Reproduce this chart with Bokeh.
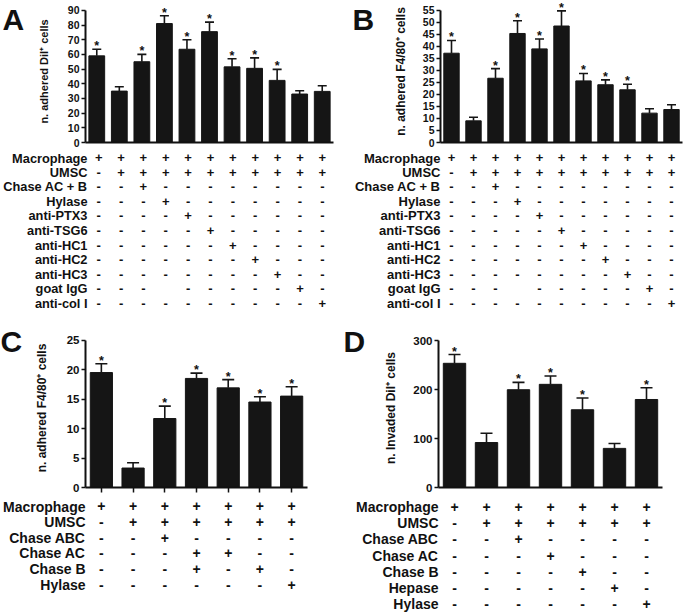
from bokeh.plotting import figure
from bokeh.models import FactorRange, Range1d, FixedTicker, Whisker, TeeHead, ColumnDataSource, Label
from bokeh.layouts import row, column
from bokeh.embed import file_html
from bokeh.resources import INLINE
from bokeh.core.properties import value

FONT = "Liberation Sans"
INK = "#111111"

# ---------------- data ----------------
# Panel A
a_groups = ["1", "2", "3", "4", "5", "6", "7", "8", "9", "10", "11"]
a_means = [59, 35, 55, 81, 63.5, 75.5, 51.5, 50.5, 42.3, 33, 34.8]
a_upper = [63.5, 38, 60, 86.3, 70, 82, 57, 57.6, 49.8, 35.2, 38.6]
a_stars = ["*", "", "*", "*", "*", "*", "*", "*", "*", "", ""]
a_yticks = [0, 10, 20, 30, 40, 50, 60, 70, 80, 90]
a_ylabel = "n. adhered DiI\u207a cells"

# Panel B
b_groups = ["1", "2", "3", "4", "5", "6", "7", "8", "9", "10", "11"]
b_means = [37.1, 9.0, 26.7, 45.3, 38.9, 48.4, 25.6, 24.0, 21.9, 12.2, 13.7]
b_upper = [42.4, 10.5, 30.7, 50.6, 43.0, 54.7, 28.7, 26.0, 24.2, 14.0, 15.7]
b_stars = ["*", "", "*", "*", "*", "*", "*", "*", "*", "", ""]
b_yticks = [0, 5, 10, 15, 20, 25, 30, 35, 40, 45, 50, 55]
b_ylabel = "n. adhered F4/80\u207a cells"

ab_rows = ["Macrophage", "UMSC", "Chase AC + B", "Hylase", "anti-PTX3", "anti-TSG6",
           "anti-HC1", "anti-HC2", "anti-HC3", "goat IgG", "anti-col I"]
ab_signs = [
    ["+", "+", "+", "+", "+", "+", "+", "+", "+", "+", "+"],
    ["-", "+", "+", "+", "+", "+", "+", "+", "+", "+", "+"],
    ["-", "-", "+", "-", "-", "-", "-", "-", "-", "-", "-"],
    ["-", "-", "-", "+", "-", "-", "-", "-", "-", "-", "-"],
    ["-", "-", "-", "-", "+", "-", "-", "-", "-", "-", "-"],
    ["-", "-", "-", "-", "-", "+", "-", "-", "-", "-", "-"],
    ["-", "-", "-", "-", "-", "-", "+", "-", "-", "-", "-"],
    ["-", "-", "-", "-", "-", "-", "-", "+", "-", "-", "-"],
    ["-", "-", "-", "-", "-", "-", "-", "-", "+", "-", "-"],
    ["-", "-", "-", "", "-", "-", "-", "-", "-", "+", "-"],
    ["-", "-", "-", "-", "-", "-", "-", "-", "-", "-", "+"],
]

# Panel C
c_groups = ["1", "2", "3", "4", "5", "6", "7"]
c_means = [19.5, 3.3, 11.7, 18.5, 16.9, 14.5, 15.5]
c_upper = [21.0, 4.2, 13.8, 19.4, 18.3, 15.4, 17.1]
c_stars = ["*", "", "*", "*", "*", "*", "*"]
c_yticks = [0, 5, 10, 15, 20, 25]
c_ylabel = "n. adhered F4/80\u207a cells"
c_rows = ["Macrophage", "UMSC", "Chase ABC", "Chase AC", "Chase B", "Hylase"]
c_signs = [
    ["+", "+", "+", "+", "+", "+", "+"],
    ["-", "+", "+", "+", "+", "+", "+"],
    ["-", "-", "+", "-", "-", "-", "-"],
    ["-", "-", "-", "+", "+", "-", "-"],
    ["-", "-", "-", "+", "-", "+", "-"],
    ["-", "-", "-", "-", "-", "-", "+"],
]

# Panel D
d_groups = ["1", "2", "3", "4", "5", "6", "7"]
d_means = [254, 92, 200, 211, 159, 80, 180]
d_upper = [272, 111, 215, 228, 183, 90, 204]
d_stars = ["*", "", "*", "*", "*", "", "*"]
d_yticks = [0, 100, 200, 300]
d_ylabel = "n. Invaded DiI\u207a cells"
d_rows = ["Macrophage", "UMSC", "Chase ABC", "Chase AC", "Chase B", "Hepase", "Hylase"]
d_signs = [
    ["+", "+", "+", "+", "+", "+", "+"],
    ["-", "+", "+", "+", "+", "+", "+"],
    ["-", "-", "+", "-", "-", "-", "-"],
    ["-", "-", "-", "+", "-", "-", "-"],
    ["-", "-", "-", "-", "+", "-", "-"],
    ["-", "-", "-", "-", "-", "+", "-"],
    ["-", "-", "-", "-", "-", "-", "+"],
]


def letter_fig(letter, w, h, lx, ly, mbt, mbb):
    f = figure(width=w, height=h, output_backend="svg", toolbar_location=None,
               x_axis_location=None, y_axis_location=None, min_border=0,
               min_border_top=mbt, min_border_bottom=mbb,
               x_range=Range1d(0, 1), y_range=Range1d(0, 1))
    f.xgrid.visible = False
    f.ygrid.visible = False
    f.outline_line_color = None
    f.add_layout(Label(x=lx, y=ly, x_units="screen", y_units="screen", text=letter,
                       text_font=FONT, text_font_style="bold", text_font_size="30px",
                       text_color=INK, text_align="left", text_baseline="alphabetic"))
    return f


def make_panel(letter, groups, means, upper, stars, yticks, ylabel, rows, signs, cfg):
    xr = FactorRange(factors=groups, range_padding=0)
    lw = cfg["lw"]
    p = figure(x_range=xr, y_range=Range1d(0, cfg["yend"]), width=cfg["w"] - lw, height=cfg["bh"],
               output_backend="svg", toolbar_location=None,
               min_border_left=cfg["mbl"] - lw, min_border_right=cfg["mbr"],
               min_border_top=cfg["bmt"], min_border_bottom=cfg["bmb"])
    src = ColumnDataSource(dict(x=groups, top=means, upper=upper))
    p.vbar(x="x", top="top", width=0.7, source=src, fill_color="#151515", line_color="#151515")
    w = Whisker(source=src, base="x", lower="top", upper="upper", dimension="height",
                line_color="#151515", line_width=1.6,
                upper_head=TeeHead(size=cfg["cap"], line_color="#151515", line_width=1.6),
                lower_head=None)
    p.add_layout(w)
    sx = [g for g, s in zip(groups, stars) if s]
    sy = [u for u, s in zip(upper, stars) if s]
    st = [s for s in stars if s]
    p.text(x=sx, y=sy, text=st, text_align="center",
           text_baseline="bottom", y_offset=4, text_font=value(FONT),
           text_font_size="12.5px", text_font_style="bold", text_color=INK)

    p.xgrid.visible = False
    p.ygrid.visible = False
    p.outline_line_color = None

    ya = p.yaxis[0]
    ya.ticker = FixedTicker(ticks=yticks)
    ya.bounds = (yticks[0], yticks[-1])
    ya.axis_line_width = 2
    ya.axis_line_color = INK
    ya.major_tick_line_width = 1.5
    ya.major_tick_line_color = INK
    ya.major_tick_out = 4
    ya.major_tick_in = 0
    ya.minor_tick_line_color = None
    ya.major_label_standoff = 2
    ya.major_label_text_font = FONT
    ya.major_label_text_font_style = "bold"
    ya.major_label_text_font_size = cfg["tick_fs"]
    ya.major_label_text_color = INK
    ya.axis_label = ylabel
    ya.axis_label_text_font = FONT
    ya.axis_label_text_font_style = "bold"
    ya.axis_label_text_font_size = cfg["lab_fs"]
    ya.axis_label_text_color = INK
    ya.axis_label_standoff = cfg["lab_so"]

    xa = p.xaxis[0]
    xa.axis_line_width = 2
    xa.axis_line_color = INK
    xa.major_label_standoff = 0
    xa.major_tick_in = 0
    xa.minor_tick_line_color = None
    if cfg["xtick"] > 0:
        xa.major_tick_out = cfg["xtick"]
        xa.major_tick_line_width = 1.5
        xa.major_tick_line_color = INK
        xa.major_label_text_font_size = "0px"
        xa.major_label_text_color = None
    else:
        xa.ticker = FixedTicker(ticks=[])
        xa.major_tick_out = 0
        xa.major_tick_line_color = None

    t = figure(x_range=xr, y_range=FactorRange(factors=list(reversed(rows)), range_padding=0),
               width=cfg["w"], height=cfg["th"], output_backend="svg", toolbar_location=None,
               x_axis_location=None,
               min_border_left=cfg["mbl"], min_border_right=cfg["mbr"],
               min_border_top=0, min_border_bottom=cfg["tmb"])
    t.xgrid.visible = False
    t.ygrid.visible = False
    t.outline_line_color = None
    ta = t.yaxis[0]
    ta.axis_line_color = None
    ta.major_tick_line_color = None
    ta.minor_tick_line_color = None
    ta.major_tick_out = 0
    ta.major_tick_in = 0
    ta.major_label_standoff = 0
    ta.major_label_text_font = FONT
    ta.major_label_text_font_style = "bold"
    ta.major_label_text_font_size = cfg["row_fs"]
    ta.major_label_text_color = INK

    xs, ys, txt = [], [], []
    for rname, rsigns in zip(rows, signs):
        for g, s in zip(groups, rsigns):
            if s:
                xs.append(g)
                ys.append(rname)
                txt.append(s)
    t.text(x=xs, y=ys, text=txt, text_align="center", text_baseline="middle",
           text_font=value(FONT), text_font_style="bold", text_font_size=cfg["sign_fs"],
           text_color=INK)
    lf = letter_fig(letter, lw, cfg["bh"], cfg["lx"], cfg["ly"], cfg["bmt"], cfg["bmb"])
    return column(row(lf, p), t)


cfg_a = dict(w=340, lw=30, bh=150, th=162, mbl=85, mbr=7, bmt=0, bmb=8, tmb=2, yend=96.7, cap=9,
             tick_fs="10.5px", lab_fs="11px", lab_so=15, xtick=0, row_fs="12.8px", sign_fs="13px",
             lx=2, ly=123)
cfg_b = dict(w=343, lw=38, bh=150, th=162, mbl=100, mbr=1, bmt=0, bmb=8, tmb=2, yend=59.0, cap=9,
             tick_fs="10.5px", lab_fs="12px", lab_so=12, xtick=0, row_fs="13px", sign_fs="13px",
             lx=12, ly=123)
cfg_c = dict(w=340, lw=30, bh=186, th=114, mbl=85, mbr=33, bmt=16, bmb=11, tmb=20, yend=26.97, cap=12,
             tick_fs="11.5px", lab_fs="12px", lab_so=15, xtick=5, row_fs="14px", sign_fs="14px",
             lx=0, ly=146)
cfg_d = dict(w=343, lw=38, bh=186, th=114, mbl=98, mbr=21, bmt=16, bmb=11, tmb=0, yend=325.2, cap=12,
             tick_fs="11.5px", lab_fs="12px", lab_so=12, xtick=0, row_fs="14px", sign_fs="14px",
             lx=3, ly=146)

panel_a = make_panel("A", a_groups, a_means, a_upper, a_stars, a_yticks, a_ylabel, ab_rows, ab_signs, cfg_a)
panel_b = make_panel("B", b_groups, b_means, b_upper, b_stars, b_yticks, b_ylabel, ab_rows, ab_signs, cfg_b)
panel_c = make_panel("C", c_groups, c_means, c_upper, c_stars, c_yticks, c_ylabel, c_rows, c_signs, cfg_c)
panel_d = make_panel("D", d_groups, d_means, d_upper, d_stars, d_yticks, d_ylabel, d_rows, d_signs, cfg_d)

layout = column(row(panel_a, panel_b), row(panel_c, panel_d))
open("out.html", "w").write(file_html(layout, INLINE))
